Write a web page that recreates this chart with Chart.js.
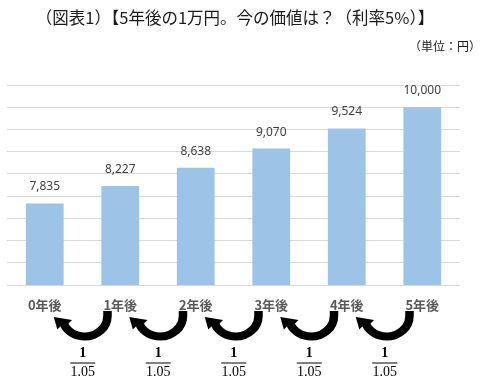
<!DOCTYPE html>
<html>
<head>
<meta charset="utf-8">
<script src="https://cdn.jsdelivr.net/npm/chart.js@4/dist/chart.umd.min.js"></script>
<style>
  html, body { margin: 0; padding: 0; background: #ffffff; }
  #wrap { width: 481px; height: 388px; position: relative; }
</style>
</head>
<body>
<div id="wrap"><canvas id="myChart" width="481" height="388"></canvas></div>
<script>
// datos del grafico
const categorias = ["0年後", "1年後", "2年後", "3年後", "4年後", "5年後"];
const valores = [7835, 8227, 8638, 9070, 9524, 10000];
const titulo = "（図表1）【5年後の1万円。今の価値は？（利率5%）】";
const unidad = "（単位：円）";
const fraccionArriba = "1";
const fraccionAbajo = "1.05";
const ejeMin = 6000;
const ejeMax = 10500;
const ejePaso = 500;

const fuenteJP = '"Noto Sans CJK JP", "Noto Sans", sans-serif';

// titulo y unidad arriba del grafico
const pluginTitulos = {
    id: "titulos",
    afterDraw(chart) {
        const ctx = chart.ctx;
        ctx.save();
        ctx.fillStyle = "#1a1a1a";
        ctx.textBaseline = "middle";
        ctx.textAlign = "center";
        ctx.font = "16.5px " + fuenteJP;
        ctx.fillText(titulo, 235, 18);
        ctx.textAlign = "right";
        ctx.font = "12px " + fuenteJP;
        ctx.fillText(unidad, 481, 46);
        ctx.restore();
    }
};

// valores encima de cada barra
const pluginEtiquetas = {
    id: "etiquetas",
    afterDatasetsDraw(chart) {
        const ctx = chart.ctx;
        const meta = chart.getDatasetMeta(0);
        ctx.save();
        ctx.fillStyle = "#404040";
        ctx.font = '12px "Noto Sans", sans-serif';
        ctx.textAlign = "center";
        ctx.textBaseline = "alphabetic";
        meta.data.forEach((barra, i) => {
            ctx.fillText(valores[i].toLocaleString("en-US"), barra.x, barra.y - 13);
        });
        ctx.restore();
    }
};

// flechas curvas y fracciones 1/1.05 entre cada par de años
const pluginFlechas = {
    id: "flechas",
    afterDraw(chart) {
        const ctx = chart.ctx;
        const escalaX = chart.scales.x;
        const y0 = chart.chartArea.bottom + 26;
        const fin = 2.7;
        ctx.save();
        for (let i = 0; i < categorias.length - 1; i++) {
            // borde derecho de la flecha, debajo de la etiqueta siguiente
            const xr = escalaX.getPixelForValue(i + 1) - 8.5;
            const cx = xr - 27;
            const cy = y0 + 5;

            // cuerpo de la flecha
            ctx.fillStyle = "#000000";
            ctx.beginPath();
            ctx.moveTo(xr - 8.5, y0);
            ctx.lineTo(xr, y0);
            ctx.ellipse(cx, cy, 27, 24.5, 0, 0, fin, false);
            ctx.ellipse(cx, cy, 18.5, 16.5, 0, fin, 0, true);
            ctx.closePath();
            ctx.fill();

            // punta de la flecha
            const ox = cx + 27 * Math.cos(fin), oy = cy + 24.5 * Math.sin(fin);
            const ix = cx + 18.5 * Math.cos(fin), iy = cy + 16.5 * Math.sin(fin);
            ctx.beginPath();
            ctx.moveTo(ox - 3, oy + 3);
            ctx.lineTo(xr - 58, y0 + 6);
            ctx.lineTo(ix + 4, iy - 3);
            ctx.lineTo(ix, iy + 1);
            ctx.lineTo(ox, oy);
            ctx.closePath();
            ctx.fill();

            // fraccion
            const fx = xr - 29;
            ctx.textAlign = "center";
            ctx.textBaseline = "middle";
            ctx.font = 'bold 14px "Liberation Serif", serif';
            ctx.fillText(fraccionArriba, fx, y0 + 42);
            ctx.fillRect(fx - 12.5, y0 + 51.5, 25, 1);
            ctx.font = '14px "Liberation Serif", serif';
            ctx.fillText(fraccionAbajo, fx, y0 + 61);
        }
        ctx.restore();
    }
};

function cargarGrafico() {
    const config = {
        type: "bar",
        data: {
            labels: categorias,
            datasets: [{
                data: valores,
                backgroundColor: "#9dc3e6",
                borderWidth: 0,
                categoryPercentage: 0.5,
                barPercentage: 1
            }]
        },
        options: {
            responsive: false,
            animation: false,
            layout: { padding: { left: 7, right: 21, top: 85, bottom: 0 } },
            plugins: {
                legend: { display: false },
                tooltip: { enabled: false }
            },
            scales: {
                x: {
                    grid: { display: false },
                    border: { display: false },
                    ticks: {
                        color: "#595959",
                        padding: 4,
                        font: { family: fuenteJP, size: 13, weight: "bold" }
                    },
                    afterFit(escala) { escala.height = 103; }
                },
                y: {
                    min: ejeMin,
                    max: ejeMax,
                    ticks: { display: false, stepSize: ejePaso },
                    grid: { color: "#d9d9d9", drawTicks: false },
                    border: { display: false },
                    afterFit(escala) { escala.width = 0; }
                }
            }
        },
        plugins: [pluginTitulos, pluginEtiquetas, pluginFlechas]
    };
    new Chart(document.getElementById("myChart"), config);
}

cargarGrafico();
</script>
</body>
</html>
